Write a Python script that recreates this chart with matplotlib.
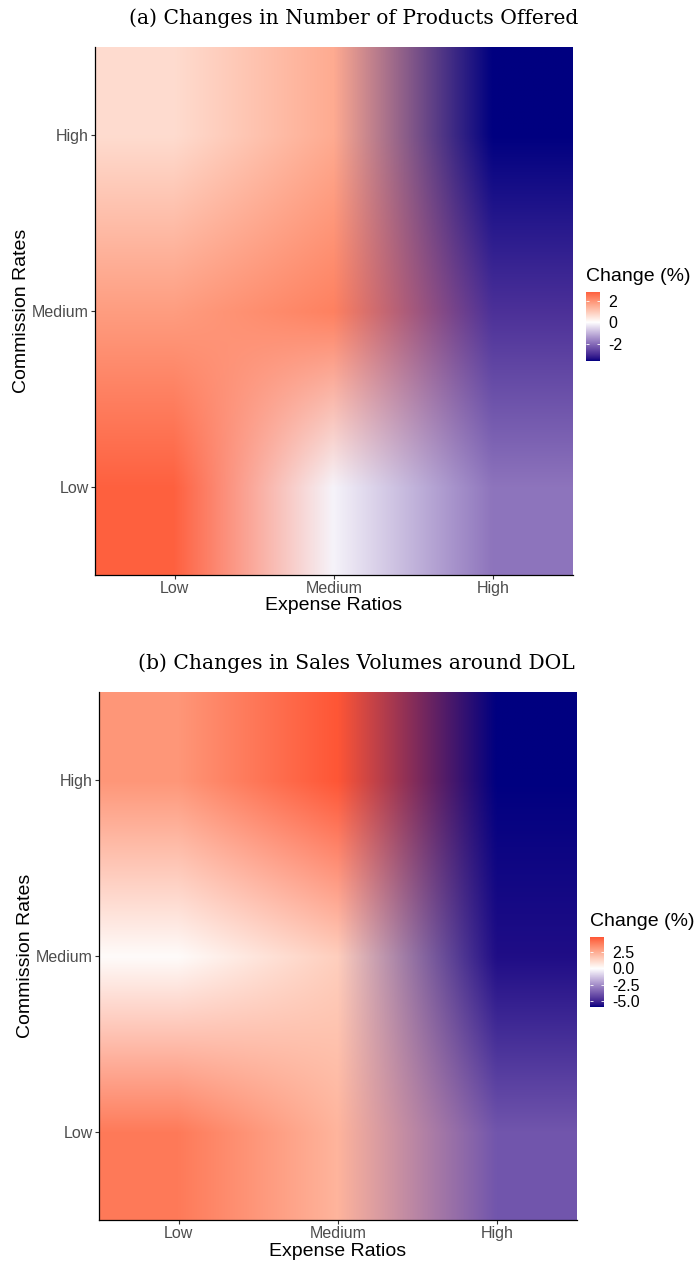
import numpy as np
import matplotlib
matplotlib.use("Agg")
import matplotlib.pyplot as plt
from matplotlib.colors import ListedColormap, Normalize, to_rgb

plt.rcParams["font.family"] = ["Liberation Sans", "DejaVu Sans"]

# factor levels (rows = commission rates, cols = expense ratios)
levels = ["Low", "Medium", "High"]

# % change, rows: commission Low / Medium / High ; cols: expense Low / Medium / High
products_change = [
    [2.8, -0.15, -1.9],
    [1.8, 2.3, -2.9],
    [0.65, 1.55, -3.6],
]
sales_change = [
    [4.0, 2.3, -3.9],
    [0.1, 1.5, -5.7],
    [3.2, 4.9, -6.0],
]

titles = ["(a) Changes in Number of Products Offered",
          "(b) Changes in Sales Volumes around DOL"]
legend_ticks = [[-2, 0, 2], [-5.0, -2.5, 0.0, 2.5]]
legend_labels = [["-2", "0", "2"], ["-5.0", "-2.5", "0.0", "2.5"]]


# --- Lab colour ramp like ggplot's scale_fill_gradient2 ---
WHITE = np.array([0.95047, 1.0, 1.08883])
M_RGB2XYZ = np.array([[0.4124, 0.3576, 0.1805],
                      [0.2126, 0.7152, 0.0722],
                      [0.0193, 0.1192, 0.9505]])


def to_lab(rgb):
    c = np.asarray(rgb, float)
    lin = np.where(c <= 0.04045, c / 12.92, ((c + 0.055) / 1.055) ** 2.4)
    t = (lin @ M_RGB2XYZ.T) / WHITE
    f = np.where(t > 0.008856, np.cbrt(t), 7.787 * t + 16 / 116)
    return np.stack([116 * f[..., 1] - 16,
                     500 * (f[..., 0] - f[..., 1]),
                     200 * (f[..., 1] - f[..., 2])], axis=-1)


def from_lab(lab):
    L, a, b = lab[..., 0], lab[..., 1], lab[..., 2]
    fy = (L + 16) / 116
    f = np.stack([fy + a / 500, fy, fy - b / 200], axis=-1)
    t = np.where(f ** 3 > 0.008856, f ** 3, (f - 16 / 116) / 7.787) * WHITE
    lin = t @ np.linalg.inv(M_RGB2XYZ).T
    lin = np.clip(lin, 0, 1)
    c = np.where(lin <= 0.0031308, 12.92 * lin, 1.055 * lin ** (1 / 2.4) - 0.055)
    return np.clip(c, 0, 1)


def gradient2(low, mid, high, n=256):
    anchors = to_lab(np.array([to_rgb(low), to_rgb(mid), to_rgb(high)]))
    s = np.linspace(0, 1, n)
    lab = np.stack([np.interp(s, [0, 0.5, 1], anchors[:, k]) for k in range(3)], axis=-1)
    return ListedColormap(from_lab(lab))


cmap = gradient2("navy", "white", "red")

W, H = 695, 1263
fig = plt.figure(figsize=(W / 100, H / 100), dpi=100)


def box(left, top, width, height):
    return [left / W, 1 - (top + height) / H, width / W, height / H]


panels = [
    dict(data=products_change, ax=(95, 47, 478, 528), cb=(586, 292, 14, 69),
         title_y=18, title_x=354),
    dict(data=sales_change, ax=(99, 692, 478, 528), cb=(590, 937, 14, 70),
         title_y=663, title_x=356),
]

for k, p in enumerate(panels):
    vals = np.array(p["data"], float)
    lim = np.abs(vals).max()
    norm = Normalize(vmin=-lim, vmax=lim)
    rgb = cmap(norm(vals))[..., :3]

    ax = fig.add_axes(box(*p["ax"]))
    ax.imshow(rgb, origin="lower", extent=(0.5, 3.5, 0.5, 3.5),
              interpolation="bilinear", interpolation_stage="rgba", aspect="auto")
    ax.set_xlim(0.5, 3.5)
    ax.set_ylim(0.5, 3.5)
    ax.set_xticks([1, 2, 3])
    ax.set_xticklabels(levels)
    ax.set_yticks([1, 2, 3])
    ax.set_yticklabels(levels)
    for s in ["top", "right"]:
        ax.spines[s].set_visible(False)
    for s in ["left", "bottom"]:
        ax.spines[s].set_color("black")
        ax.spines[s].set_linewidth(0.9)
    ax.tick_params(length=3, width=0.8, color="#333333", labelsize=11.5,
                   labelcolor="#4D4D4D", pad=1.5)

    left, top, w, h = p["ax"]
    fig.text((left + w / 2) / W, 1 - (top + h + 31) / H, "Expense Ratios",
             ha="center", va="center", fontsize=14)
    fig.text((left - 73) / W, 1 - (top + h / 2) / H, "Commission Rates",
             ha="center", va="center", rotation=90, fontsize=14)
    fig.text(p["title_x"] / W, 1 - p["title_y"] / H, titles[k],
             ha="center", va="center", fontsize=14.6, family="DejaVu Serif")

    # colourbar legend
    lo, hi = vals.min(), vals.max()
    cb_left, cb_top, cb_w, cb_h = p["cb"]
    cax = fig.add_axes(box(*p["cb"]))
    grad = np.linspace(lo, hi, 300)[:, None]
    cax.imshow(grad, cmap=cmap, norm=norm, origin="lower", extent=(0, 1, lo, hi),
               aspect="auto", interpolation="bilinear")
    cax.set_xlim(0, 1)
    cax.set_ylim(lo, hi)
    cax.set_xticks([])
    cax.set_yticks(legend_ticks[k])
    cax.set_yticklabels(legend_labels[k])
    cax.yaxis.tick_right()
    cax.tick_params(axis="y", length=0, labelsize=11.5, labelcolor="black", pad=6)
    for s in cax.spines.values():
        s.set_visible(False)
    for t in legend_ticks[k]:
        cax.hlines(t, 0, 0.2, color="white", lw=0.6)
        cax.hlines(t, 0.8, 1, color="white", lw=0.6)
    fig.text(cb_left / W, 1 - (cb_top - 16) / H, "Change (%)",
             ha="left", va="center", fontsize=14)

fig.savefig("out.png", dpi=100)
